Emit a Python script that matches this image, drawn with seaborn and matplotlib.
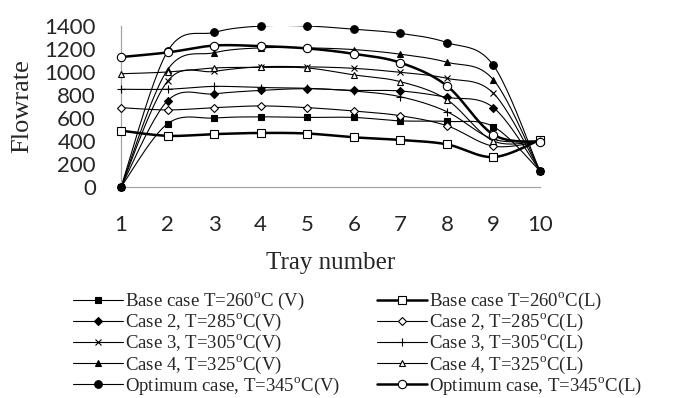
import numpy as np
import matplotlib
matplotlib.use("Agg")
import matplotlib.pyplot as plt
from matplotlib.lines import Line2D
import seaborn as sns

sns.set_style("white")
plt.rcParams["mathtext.fontset"] = "custom"
plt.rcParams["mathtext.rm"] = "Liberation Serif"

trays = [1, 2, 3, 4, 5, 6, 7, 8, 9, 10]

base_v = [0, 550, 600, 610, 605, 605, 575, 570, 525, 140]
base_l = [490, 445, 460, 470, 465, 432, 409, 371, 260, 410]
case2_v = [0, 750, 810, 840, 855, 840, 835, 780, 690, 140]
case2_l = [690, 670, 690, 705, 690, 661, 620, 533, 355, 395]
case3_v = [0, 920, 1005, 1045, 1045, 1032, 997, 945, 815, 140]
case3_l = [850, 850, 875, 865, 858, 835, 785, 655, 415, 400]
case4_v = [0, 1020, 1168, 1210, 1210, 1195, 1155, 1085, 932, 140]
case4_l = [985, 1000, 1035, 1040, 1035, 975, 916, 760, 400, 400]
opt_v = [0, 1180, 1345, 1400, 1400, 1372, 1336, 1256, 1057, 135]
opt_l = [1130, 1170, 1230, 1225, 1205, 1158, 1081, 880, 455, 392]

labels = [
    r"Base case T=260$^{\rm o}$C (V)", r"Base case T=260$^{\rm o}$C(L)",
    r"Case 2, T=285$^{\rm o}$C(V)", r"Case 2, T=285$^{\rm o}$C(L)",
    r"Case 3, T=305$^{\rm o}$C(V)", r"Case 3, T=305$^{\rm o}$C(L)",
    r"Case 4, T=325$^{\rm o}$C(V)", r"Case 4, T=325$^{\rm o}$C(L)",
    r"Optimum case, T=345$^{\rm o}$C(V)", r"Optimum case, T=345$^{\rm o}$C(L)",
]
series = [base_v, base_l, case2_v, case2_l, case3_v, case3_l,
          case4_v, case4_l, opt_v, opt_l]

# style: (marker, filled, markersize, linewidth)
styles = [
    ("s", True, 5.0, 0.8), ("s", False, 5.5, 1.8),
    ("D", True, 3.8, 0.8), ("D", False, 4.0, 0.8),
    ("x", True, 5.0, 0.8), ("+", True, 5.5, 0.8),
    ("^", True, 5.0, 0.8), ("^", False, 5.0, 0.8),
    ("o", True, 5.5, 0.8), ("o", False, 6.0, 1.8),
]


def smooth(x, y, n=24):
    pts = np.column_stack([x, y]).astype(float)
    out = [pts[0]]
    m = len(pts)
    for i in range(m - 1):
        p0 = pts[i - 1] if i > 0 else pts[i]
        p1, p2 = pts[i], pts[i + 1]
        p3 = pts[i + 2] if i + 2 < m else pts[i + 1]
        c1 = p1 + (p2 - p0) / 6.0
        c2 = p2 - (p3 - p1) / 6.0
        t = np.linspace(0, 1, n)[1:, None]
        b = ((1 - t) ** 3) * p1 + 3 * ((1 - t) ** 2) * t * c1 + 3 * (1 - t) * t ** 2 * c2 + t ** 3 * p2
        out.extend(b)
    out = np.array(out)
    return out[:, 0], out[:, 1]


W, H = 678, 398
fig = plt.figure(figsize=(W / 100, H / 100), dpi=100)
ax = fig.add_axes([121 / W, 1 - 187 / H, (540 - 121) / W, (187 - 26) / H])

handles = []
for vals, lab, (mk, filled, ms, lw) in zip(series, labels, styles):
    sx, sy = smooth(trays, vals)
    sns.lineplot(x=sx, y=sy, sort=False, estimator=None, ax=ax,
                 color="black", linewidth=lw, zorder=2)
    face = "black" if filled else "white"
    ax.plot(trays, vals, linestyle="none", marker=mk, markersize=ms,
            markerfacecolor=face, markeredgecolor="black",
            markeredgewidth=0.8, zorder=3, clip_on=False)
    handles.append(Line2D([], [], color="black", linewidth=lw, marker=mk,
                          markersize=ms, markerfacecolor=face,
                          markeredgecolor="black", markeredgewidth=0.8))

ax.set_xlim(1, 10)
ax.set_ylim(0, 1400)
ax.set_xticks(trays)
ax.set_yticks(range(0, 1401, 200))
for s in ["top", "right"]:
    ax.spines[s].set_visible(False)
for s in ["left", "bottom"]:
    ax.spines[s].set_color("#A6A6A6")
    ax.spines[s].set_linewidth(0.9)
ax.tick_params(axis="both", length=0, labelsize=16)
ax.tick_params(axis="y", pad=18)
ax.tick_params(axis="x", pad=20)
for t in ax.get_xticklabels() + ax.get_yticklabels():
    t.set_fontfamily(["Lato", "DejaVu Sans"])

ax.set_ylabel("Flowrate", family="Liberation Serif", fontsize=19, va="center")
ax.yaxis.set_label_coords((22 - 121) / 419, 0.5)
ax.set_xlabel("Tray number", family="Liberation Serif", fontsize=18, va="center")
ax.xaxis.set_label_coords(0.5, (187 - 263) / 161)

order = [0, 2, 4, 6, 8, 1, 3, 5, 7, 9]
leg = fig.legend([handles[i] for i in order], [labels[i] for i in order],
                 loc="upper left", bbox_to_anchor=(73 / W, 1 - 291 / H),
                 ncol=2, frameon=False, prop={"family": "Liberation Serif", "size": 13.5},
                 handlelength=2.65, handletextpad=0.1, columnspacing=2.0,
                 labelspacing=0.0, borderpad=0, borderaxespad=0, numpoints=1)

fig.savefig("out.png", dpi=100)
